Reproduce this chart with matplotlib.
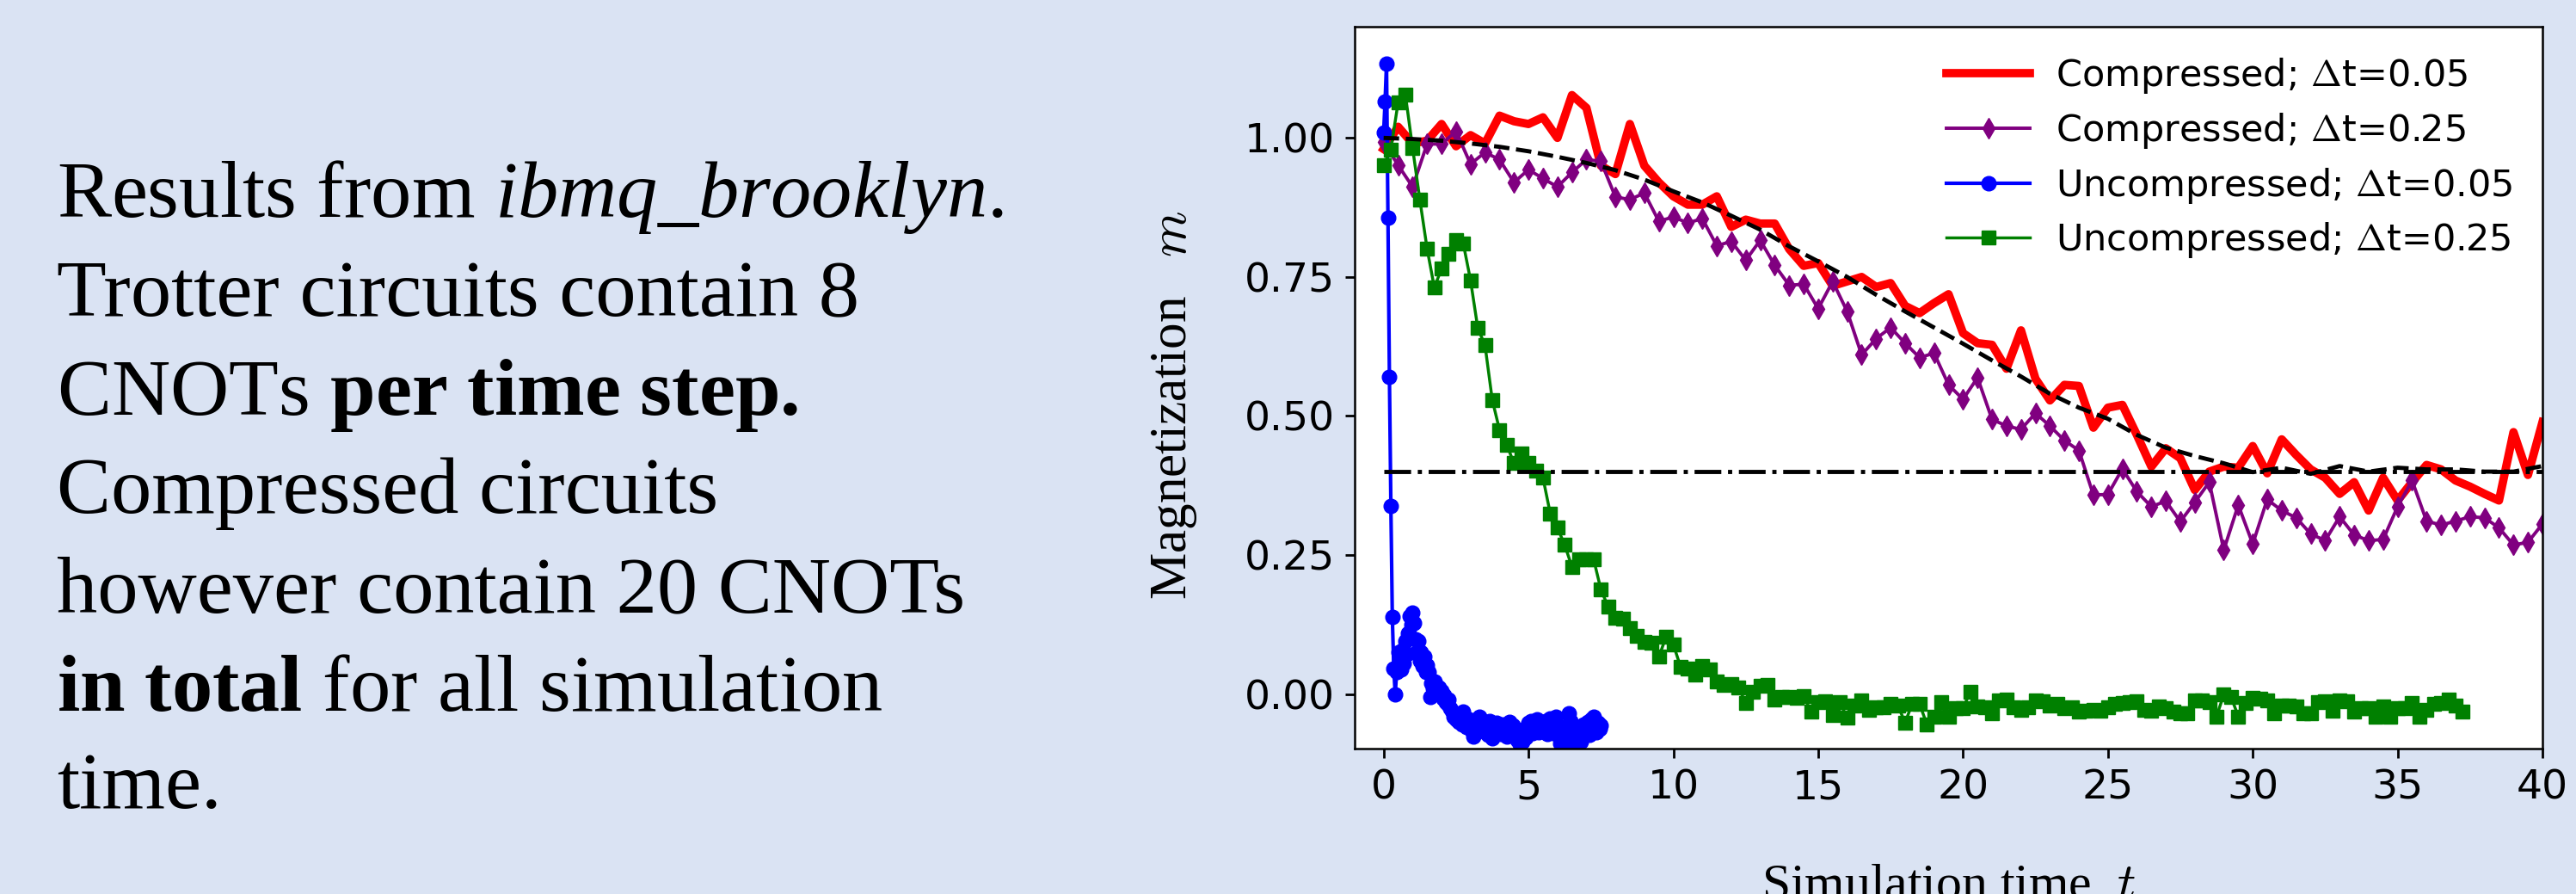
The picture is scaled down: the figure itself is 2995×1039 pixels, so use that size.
import numpy as np
import matplotlib
matplotlib.use("Agg")
import matplotlib.pyplot as plt
from matplotlib.font_manager import FontProperties

# slide text uses Times-like fonts for its italic / bold runs
plt.rcParams['mathtext.fontset'] = 'custom'
plt.rcParams['mathtext.rm'] = 'Liberation Serif'
plt.rcParams['mathtext.it'] = 'Liberation Serif:italic'
plt.rcParams['mathtext.bf'] = 'Liberation Serif:bold'

# magnetization
# compressed, dt=0.05 (one point every 0.5 time units)
m_red = [0.98, 1.02, 0.99, 0.995, 1.025, 0.985, 1.005, 0.99, 1.04, 1.03,
         1.025, 1.037, 1.00, 1.077, 1.054, 0.95, 0.935, 1.025, 0.95, 0.92,
         0.895, 0.88, 0.88, 0.895, 0.84, 0.853, 0.846, 0.846, 0.80, 0.77,
         0.775, 0.734, 0.742, 0.75, 0.732, 0.739, 0.698, 0.685, 0.703, 0.719,
         0.649, 0.631, 0.628, 0.585, 0.654, 0.567, 0.528, 0.556, 0.554, 0.479,
         0.515, 0.52, 0.466, 0.409, 0.442, 0.424, 0.367, 0.40, 0.409, 0.407,
         0.446, 0.397, 0.458, 0.43, 0.404, 0.389, 0.36, 0.381, 0.33, 0.389,
         0.348, 0.381, 0.412, 0.404, 0.384, 0.373, 0.36, 0.348, 0.471, 0.394,
         0.489]

# compressed, dt=0.25 (one point every 0.5 time units)
m_purple = [0.992, 0.951, 0.912, 0.989, 0.989, 1.012, 0.953, 0.974, 0.961, 0.920,
            0.943, 0.927, 0.912, 0.938, 0.961, 0.958, 0.894, 0.889, 0.901, 0.850,
            0.858, 0.847, 0.855, 0.806, 0.814, 0.780, 0.816, 0.771, 0.735, 0.737,
            0.693, 0.742, 0.688, 0.610, 0.639, 0.659, 0.631, 0.605, 0.613, 0.556,
            0.530, 0.569, 0.494, 0.482, 0.476, 0.505, 0.482, 0.456, 0.438, 0.358,
            0.359, 0.405, 0.364, 0.337, 0.347, 0.310, 0.345, 0.381, 0.259, 0.340,
            0.270, 0.350, 0.330, 0.317, 0.288, 0.276, 0.319, 0.286, 0.276, 0.278,
            0.337, 0.384, 0.311, 0.304, 0.311, 0.319, 0.317, 0.299, 0.268, 0.273,
            0.306]

# uncompressed, dt=0.05
m_blue = [1.010, 1.066, 1.134, 0.856, 0.571, 0.339, 0.139, 0.046, 0.000, 0.040,
          0.075, 0.062, 0.045, 0.080, 0.055, 0.095, 0.072, 0.110, 0.140, 0.125,
          0.147, 0.128, 0.098, 0.076, 0.095, 0.060, 0.075, 0.050, 0.068, 0.040,
          0.052, 0.040, -0.005, 0.020, 0.010, 0.023, 0.015, 0.008, 0.012, 0.000,
          0.005, -0.008, -0.002, -0.015, -0.018, -0.010, -0.025, -0.030, -0.041, -0.035,
          -0.045, -0.038, -0.050, -0.042, -0.055, -0.031, -0.048, -0.060, -0.052, -0.045,
          -0.055, -0.065, -0.077, -0.058, -0.048, -0.060, -0.041, -0.052, -0.062, -0.048,
          -0.068, -0.056, -0.074, -0.049, -0.063, -0.079, -0.055, -0.066, -0.051, -0.070,
          -0.060, -0.072, -0.054, -0.067, -0.058, -0.076, -0.062, -0.050, -0.069, -0.057,
          -0.074, -0.063, -0.082, -0.068, -0.090, -0.071, -0.085, -0.066, -0.078, -0.060,
          -0.052, -0.064, -0.048, -0.070, -0.055, -0.062, -0.045, -0.068, -0.058, -0.050,
          -0.053, -0.066, -0.049, -0.072, -0.058, -0.044, -0.062, -0.070, -0.051, -0.040,
          -0.058, -0.075, -0.088, -0.067, -0.080, -0.060, -0.085, -0.070, -0.035, -0.048,
          -0.072, -0.056, -0.090, -0.065, -0.078, -0.060, -0.086, -0.070, -0.055, -0.066,
          -0.062, -0.050, -0.074, -0.045, -0.060, -0.041, -0.058, -0.068, -0.052, -0.063,
          -0.057]

# uncompressed, dt=0.25
m_green = [0.951, 0.979, 1.064, 1.078, 0.982, 0.889, 0.801, 0.731, 0.765, 0.791,
           0.817, 0.810, 0.744, 0.658, 0.627, 0.529, 0.475, 0.448, 0.415, 0.433,
           0.416, 0.402, 0.389, 0.325, 0.299, 0.268, 0.229, 0.243, 0.243, 0.242,
           0.188, 0.157, 0.137, 0.135, 0.118, 0.105, 0.094, 0.092, 0.067, 0.103,
           0.089, 0.049, 0.046, 0.035, 0.051, 0.045, 0.023, 0.017, 0.018, 0.012,
           -0.016, 0.004, 0.015, 0.017, -0.010, -0.005, -0.005, -0.006, -0.003, -0.032,
           -0.014, -0.013, -0.037, -0.015, -0.043, -0.021, -0.012, -0.028, -0.023, -0.024,
           -0.018, -0.021, -0.051, -0.017, -0.018, -0.054, -0.041, -0.015, -0.040, -0.025,
           -0.025, 0.004, -0.022, -0.023, -0.034, -0.011, -0.010, -0.023, -0.029, -0.023,
           -0.012, -0.013, -0.020, -0.018, -0.025, -0.023, -0.031, -0.030, -0.028, -0.030,
           -0.023, -0.017, -0.016, -0.014, -0.013, -0.029, -0.030, -0.022, -0.026, -0.031,
           -0.035, -0.034, -0.012, -0.011, -0.015, -0.040, -0.001, -0.005, -0.040, -0.016,
           -0.006, -0.008, -0.011, -0.035, -0.020, -0.021, -0.022, -0.035, -0.034, -0.015,
           -0.013, -0.030, -0.011, -0.013, -0.031, -0.025, -0.026, -0.041, -0.022, -0.040,
           -0.026, -0.025, -0.016, -0.040, -0.029, -0.017, -0.016, -0.010, -0.021, -0.032]

# exact curve, one value per time unit
m_exact = [1.0, 0.998, 0.995, 0.99, 0.984, 0.976, 0.966, 0.955, 0.942, 0.925,
           0.904, 0.884, 0.86, 0.835, 0.805, 0.778, 0.75, 0.718, 0.688, 0.659,
           0.63, 0.60, 0.571, 0.54, 0.515, 0.495, 0.466, 0.443, 0.428, 0.415,
           0.399, 0.407, 0.396, 0.41, 0.40, 0.407, 0.404, 0.404, 0.40, 0.40,
           0.41]

m_steady = 0.40
t_span = [0, 40]

t_red = np.arange(len(m_red)) * 0.5
t_purple = np.arange(len(m_purple)) * 0.5
t_blue = np.arange(len(m_blue)) * 0.05
t_green = np.arange(len(m_green)) * 0.25
t_exact = np.arange(len(m_exact)) * 1.0

text_lines = [
    r"Results from $\mathit{ibmq\_brooklyn}$.",
    "Trotter circuits contain 8",
    r"CNOTs $\mathbf{per\ time\ step.}$",
    "Compressed circuits",
    "however contain 20 CNOTs",
    r"$\mathbf{in\ total}$ for all simulation",
    "time.",
]
baselines = [252, 367, 482, 596, 711, 826, 939]

W, H = 2995, 1039
fig = plt.figure(figsize=(W / 100, H / 100), dpi=100, facecolor='#dae3f3')

for line, b in zip(text_lines, baselines):
    fig.text(66 / W, 1 - b / H, line, fontsize=68, family='Liberation Serif',
             ha='left', va='baseline')

ax = fig.add_axes([1575 / W, (H - 870) / H, (2956 - 1575) / W, (870 - 31) / H])
ax.set_facecolor('white')

ax.plot(t_red, m_red, color='red', lw=7, label=r'Compressed; $\Delta$t=0.05')
ax.plot(t_purple, m_purple, color='purple', lw=2.8, marker='d', ms=12,
        label=r'Compressed; $\Delta$t=0.25')
ax.plot(t_blue, m_blue, color='blue', lw=3, marker='o', ms=12,
        label=r'Uncompressed; $\Delta$t=0.05')
ax.plot(t_green, m_green, color='green', lw=2.5, marker='s', ms=11,
        label=r'Uncompressed; $\Delta$t=0.25')
ax.plot(t_exact, m_exact, 'k--', lw=3.5)
ax.plot(t_span, [m_steady, m_steady], 'k-.', lw=3.5)

ax.set_xlim(-1, 40)
ax.set_ylim(-0.098, 1.2)
ax.set_xticks(range(0, 41, 5))
ax.set_yticks([0.0, 0.25, 0.5, 0.75, 1.0])
ax.tick_params(labelsize=34, length=7.7, width=2, pad=9)
for s in ax.spines.values():
    s.set_linewidth(1.8)

ax.set_xlabel(r'Simulation time  $t$', fontsize=43, family='Liberation Serif',
              math_fontfamily='cm')
ax.xaxis.set_label_coords(0.5, -0.1597)
ax.set_ylabel(r'Magnetization   $m$', fontsize=44, family='Liberation Serif',
              math_fontfamily='cm')
ax.yaxis.set_label_coords(-0.131, 0.4755)

ax.legend(loc='upper right', frameon=False, labelspacing=0.41,
          prop=FontProperties(size=31, math_fontfamily='cm'),
          borderaxespad=0.4, handlelength=2.25, handletextpad=0.7)

fig.savefig('out.png', dpi=100, facecolor=fig.get_facecolor())
